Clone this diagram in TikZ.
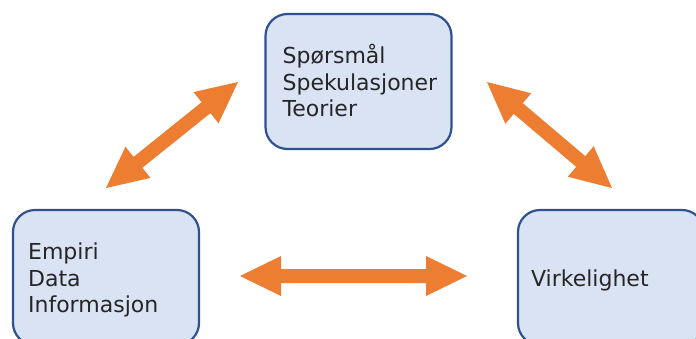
\documentclass[tikz,border=0pt]{standalone}
\usepackage{fontspec}
\setmainfont{DejaVu Sans}
\usetikzlibrary{calc}

\definecolor{boxfill}{HTML}{DAE3F3}
\definecolor{boxline}{HTML}{2F528F}
\definecolor{arroworange}{HTML}{ED7D31}

% head length, head half-width, shaft half-width of the double arrows
\newcommand\arrHead{41pt}
\newcommand\arrWing{20pt}
\newcommand\arrShaft{7pt}

% filled double-headed block arrow between two named coordinates
\newcommand\bidiarrow[2]{%
  \fill[arrowshape]
    (#1)
    -- ($(#1)!\arrHead!(#2)!\arrWing!90:(#2)$)
    -- ($(#1)!\arrHead!(#2)!\arrShaft!90:(#2)$)
    -- ($(#2)!\arrHead!(#1)!\arrShaft!-90:(#1)$)
    -- ($(#2)!\arrHead!(#1)!\arrWing!-90:(#1)$)
    -- (#2)
    -- ($(#2)!\arrHead!(#1)!\arrWing!90:(#1)$)
    -- ($(#2)!\arrHead!(#1)!\arrShaft!90:(#1)$)
    -- ($(#1)!\arrHead!(#2)!\arrShaft!-90:(#2)$)
    -- ($(#1)!\arrHead!(#2)!\arrWing!-90:(#2)$)
    -- cycle;}

\begin{document}
\begin{tikzpicture}[x=1pt, y=-1pt,
  conceptbox/.style={draw=boxline, fill=boxfill, line width=2.2pt,
    rounded corners=22pt, minimum width=186pt, minimum height=135pt,
    inner sep=0pt},
  boxtext/.style={inner sep=0pt, align=left, anchor=west,
    font=\fontsize{22}{26.5}\selectfont, text=black!85},
  arrowshape/.style={fill=arroworange}]

  \useasboundingbox (0,0) rectangle (696,338);
  \clip (0,0) rectangle (696,338);

  % the three boxes
  \node[conceptbox] (theory) at (358.5,81.5) {};
  \node[conceptbox] (empiri) at (106,277.5) {};
  \node[conceptbox] (reality) at (611,277.5) {};

  \node[boxtext, yshift=0.9pt] (theorytext) at ([xshift=18pt]theory.west)
    {Spørsmål\\Spekulasjoner\\Teorier};
  \node[boxtext, yshift=-2.7pt] (empiritext) at ([xshift=16pt]empiri.west)
    {Empiri\\Data\\Informasjon};
  \node[boxtext, yshift=-3.3pt] (realitytext) at ([xshift=14pt]reality.west)
    {Virkelighet};

  % tips of the double arrows
  \coordinate (te) at (238,82);
  \coordinate (et) at (106,188);
  \coordinate (tr) at (487,82);
  \coordinate (rt) at (612,188);
  \coordinate (er) at (240,276);
  \coordinate (re) at (467,276);

  \bidiarrow{te}{et}
  \bidiarrow{tr}{rt}
  \bidiarrow{er}{re}
\end{tikzpicture}
\end{document}
